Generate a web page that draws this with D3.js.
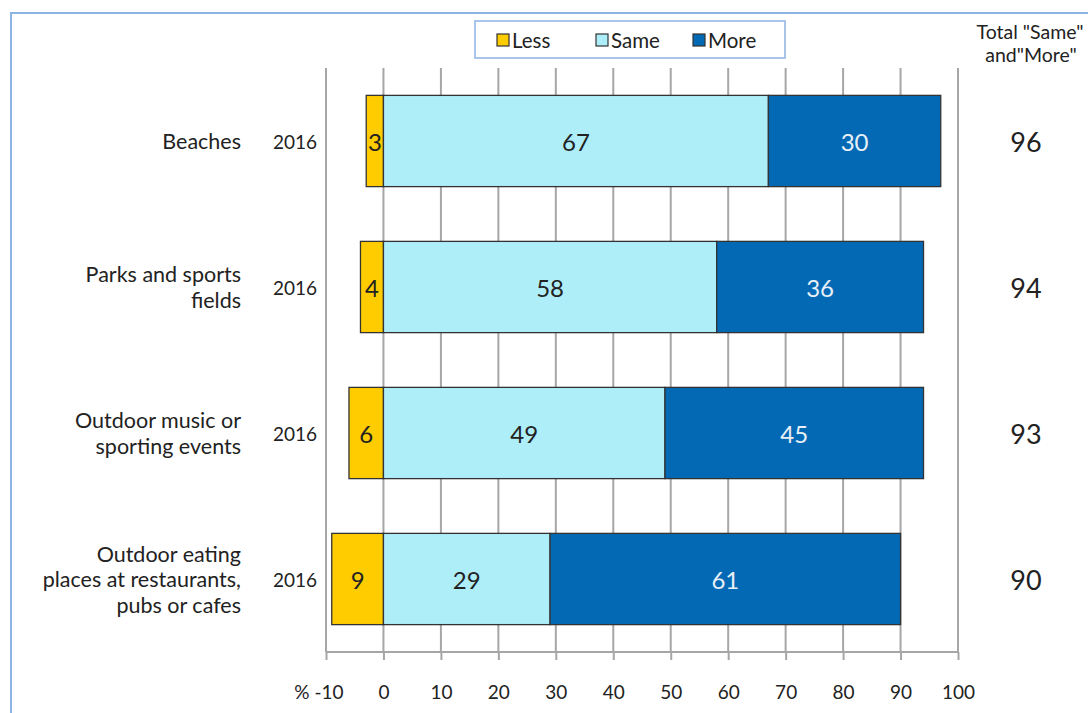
<!DOCTYPE html>
<html><head><meta charset="utf-8">
<script src="https://cdn.jsdelivr.net/npm/d3@7"></script>
<style>body{margin:0;background:#fff}svg{display:block}text{font-family:Lato,"Open Sans",sans-serif;fill:#222}</style>
</head><body><svg id="c" width="1088" height="713"></svg>
<script>
const categories = [["Beaches"],["Parks and sports","fields"],["Outdoor music or","sporting events"],["Outdoor eating","places at restaurants,","pubs or cafes"]];
const years = ["2016","2016","2016","2016"];
const less = [3,4,6,9];
const same = [67,58,49,29];
const more = [30,36,45,61];
const totals = [96,94,93,90];
const seriesNames = ["Less","Same","More"];
const ticks = [-10,0,10,20,30,40,50,60,70,80,90,100];

const colors = {Less:"#FFCC00",Same:"#AEEEF9",More:"#0469B4"};
const svg = d3.select("#c");
// frame
svg.append("rect").attr("x",11).attr("y",13).attr("width",1090).attr("height",720)
  .attr("fill","none").attr("stroke","#8DB3E2").attr("stroke-width",2);

const x = d3.scaleLinear().domain([-10,100]).range([326,958]);
const idx = d3.range(categories.length);
const y = d3.scaleBand().domain(idx).range([68,652]).paddingInner(0.375).paddingOuter(0.1875);

// gridlines
svg.append("g").selectAll("line").data(ticks).join("line")
  .attr("x1",d=>x(d)).attr("x2",d=>x(d)).attr("y1",68).attr("y2",652)
  .attr("stroke","#A6A6A6").attr("stroke-width",2);

// axis
const ax = svg.append("g").attr("transform","translate(0,652)")
  .call(d3.axisBottom(x).tickValues(ticks).tickSize(8).tickFormat(d=>d===-10?"% -10":d));
ax.select(".domain").attr("stroke","#A6A6A6").attr("stroke-width",2).attr("d","M326,0H958");
ax.selectAll(".tick line").attr("stroke","#A6A6A6").attr("stroke-width",2);
ax.selectAll(".tick text").attr("y",34).style("font-size","19px").style("font-family","Lato, sans-serif").attr("fill","#222");
ax.selectAll(".tick text").filter(d=>d===-10).attr("text-anchor","end").attr("dx","17");

// stacked segments
const segs = [];
idx.forEach(i=>{
  segs.push({i,name:"Less",x0:-less[i],x1:0,v:less[i]});
  segs.push({i,name:"Same",x0:0,x1:same[i],v:same[i]});
  segs.push({i,name:"More",x0:same[i],x1:same[i]+more[i],v:more[i]});
});
const g = svg.append("g");
g.selectAll("rect").data(segs).join("rect")
  .attr("x",d=>x(d.x0)).attr("width",d=>x(d.x1)-x(d.x0))
  .attr("y",d=>y(d.i)).attr("height",y.bandwidth())
  .attr("fill",d=>colors[d.name]).attr("stroke","#333").attr("stroke-width",1.3);
g.selectAll("text").data(segs).join("text")
  .attr("x",d=>(x(d.x0)+x(d.x1))/2).attr("y",d=>y(d.i)+y.bandwidth()/2)
  .attr("text-anchor","middle").attr("dominant-baseline","central")
  .style("font-size","24px").style("fill",d=>d.name==="More"?"#e8f0f8":"#222")
  .text(d=>d.v);

// category labels
const cl = svg.append("g");
idx.forEach(i=>{
  const lines = categories[i];
  const cy = y(i)+y.bandwidth()/2;
  const lh = 25.5;
  const t = cl.append("text").attr("text-anchor","end").style("font-size","21.5px");
  lines.forEach((l,k)=>{
    t.append("tspan").attr("x",241).attr("y",cy+(k-(lines.length-1)/2)*lh).attr("dominant-baseline","central").text(l);
  });
  cl.append("text").attr("x",295).attr("y",cy).attr("text-anchor","middle").attr("dominant-baseline","central")
    .style("font-size","19px").text(years[i]);
  cl.append("text").attr("x",1026).attr("y",cy).attr("text-anchor","middle").attr("dominant-baseline","central")
    .style("font-size","27px").text(totals[i]);
});

// total header
svg.append("text").attr("x",1030).attr("y",31).attr("text-anchor","middle").attr("dominant-baseline","central")
  .style("font-size","19.5px").text('Total "Same"');
svg.append("text").attr("x",1031).attr("y",54).attr("text-anchor","middle").attr("dominant-baseline","central")
  .style("font-size","19.5px").text('and"More"');

// legend
svg.append("rect").attr("x",475).attr("y",21).attr("width",310).attr("height",37)
  .attr("fill","#fff").attr("stroke","#8DB3E2").attr("stroke-width",1.5);
const lx = [503,602,699];
const lg = svg.append("g").selectAll("g").data(seriesNames).join("g")
  .attr("transform",(d,k)=>`translate(${lx[k]},40)`);
lg.append("rect").attr("x",-6).attr("y",-6).attr("width",12).attr("height",12)
  .attr("fill",d=>colors[d]).attr("stroke","#333").attr("stroke-width",1.2);
lg.append("text").attr("x",9).attr("y",0).attr("dominant-baseline","central").style("font-size","20.5px").text(d=>d);
</script></body></html>
